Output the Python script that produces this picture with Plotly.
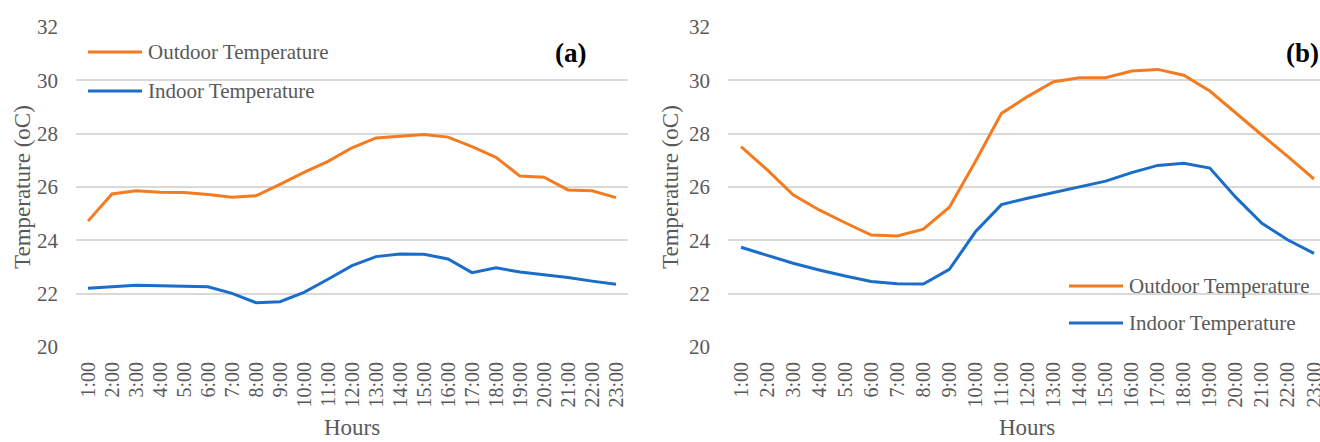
import plotly.graph_objects as go

W, H = 1320, 442

hours = [f"{h}:00" for h in range(1, 24)]

# Panel (a)
outdoor_a = [24.72, 25.74, 25.86, 25.80, 25.79, 25.72, 25.62, 25.67, 26.10, 26.55, 26.96,
             27.47, 27.84, 27.91, 27.97, 27.87, 27.51, 27.11, 26.41, 26.37, 25.89, 25.86, 25.60]
indoor_a = [22.20, 22.26, 22.32, 22.30, 22.27, 22.26, 22.01, 21.66, 21.70, 22.05, 22.54,
            23.05, 23.39, 23.49, 23.48, 23.30, 22.79, 22.97, 22.81, 22.71, 22.61, 22.47, 22.35]

# Panel (b)
outdoor_b = [27.51, 26.65, 25.71, 25.14, 24.66, 24.20, 24.16, 24.42, 25.24, 26.96, 28.76,
             29.39, 29.95, 30.10, 30.10, 30.35, 30.41, 30.19, 29.60, 28.76, 27.95, 27.14, 26.30]
indoor_b = [23.74, 23.44, 23.14, 22.89, 22.66, 22.46, 22.37, 22.36, 22.91, 24.32, 25.34,
            25.58, 25.79, 26.01, 26.22, 26.54, 26.81, 26.89, 26.71, 25.61, 24.64, 24.01, 23.51]

y_ticks = [20, 22, 24, 26, 28, 30, 32]

ORANGE = "#F47B20"
BLUE = "#1A6DC8"
GRID = "#D9D9D9"
TEXT = "#595959"
FONT = "Liberation Serif"

fig = go.Figure()

panels = [
    ("x", "y", outdoor_a, indoor_a),
    ("x2", "y2", outdoor_b, indoor_b),
]
for xa, ya, out, ind in panels:
    fig.add_trace(go.Scatter(x=hours, y=out, xaxis=xa, yaxis=ya, mode="lines",
                             line=dict(color=ORANGE, width=3), name="Outdoor Temperature",
                             showlegend=False))
    fig.add_trace(go.Scatter(x=hours, y=ind, xaxis=xa, yaxis=ya, mode="lines",
                             line=dict(color=BLUE, width=3), name="Indoor Temperature",
                             showlegend=False))

ydom = [(H - 347) / H, (H - 27) / H]

xcommon = dict(type="category", tickmode="array", tickvals=hours, ticktext=hours,
               tickangle=-90, showgrid=False, zeroline=False, automargin=False,
               showline=False, ticks="", tickfont=dict(family=FONT, size=20, color=TEXT),
               ticklabelstandoff=10)
ycommon = dict(range=[20, 32], tickvals=y_ticks, showgrid=True, gridcolor=GRID,
               gridwidth=1.5, zeroline=False, showline=False, ticks="", automargin=False,
               tickfont=dict(family=FONT, size=21, color=TEXT), ticklabelstandoff=17)

fig.update_layout(
    width=W, height=H,
    margin=dict(l=0, r=0, t=0, b=0, autoexpand=False),
    paper_bgcolor="white", plot_bgcolor="white",
    xaxis=dict(domain=[76 / W, 628 / W], range=[-0.5, 22.5], anchor="y", **xcommon),
    yaxis=dict(domain=ydom, anchor="x", **ycommon),
    xaxis2=dict(domain=[728 / W, 1.0], range=[-0.5, 22.23], anchor="y2", **xcommon),
    yaxis2=dict(domain=ydom, anchor="x2", **ycommon),
)

def px(x):
    return x / W

def py(y):
    return 1 - y / H

annotations = []
shapes = []

# Axis titles
for cx, cy_title, hx in [(22, 187, 352), (670, 187, 1027)]:
    annotations.append(dict(x=px(cx), y=py(cy_title), xref="paper", yref="paper",
                            text="Temperature (oC)", textangle=-90, showarrow=False,
                            font=dict(family=FONT, size=23, color=TEXT),
                            xanchor="center", yanchor="middle"))
    annotations.append(dict(x=px(hx), y=0, xref="paper", yref="paper",
                            text="Hours", showarrow=False,
                            font=dict(family=FONT, size=23, color=TEXT),
                            xanchor="center", yanchor="bottom"))

# Panel labels
for lx, lab in [(570, "(a)"), (1302, "(b)")]:
    annotations.append(dict(x=px(lx), y=py(53), xref="paper", yref="paper",
                            text=f"<b>{lab}</b>", showarrow=False,
                            font=dict(family=FONT, size=27, color="black"),
                            xanchor="center", yanchor="middle"))

# Legends drawn as line samples with text
legend_items = [
    (88, 52, ORANGE, "Outdoor Temperature"),
    (88, 91, BLUE, "Indoor Temperature"),
    (1069, 286, ORANGE, "Outdoor Temperature"),
    (1069, 323, BLUE, "Indoor Temperature"),
]
for lx, ly, col, txt in legend_items:
    shapes.append(dict(type="line", xref="paper", yref="paper",
                       x0=px(lx), x1=px(lx + 54), y0=py(ly), y1=py(ly),
                       line=dict(color=col, width=3)))
    annotations.append(dict(x=px(lx + 58), y=py(ly), xref="paper", yref="paper",
                            text=txt, showarrow=False, xanchor="left", yanchor="middle",
                            font=dict(family=FONT, size=21, color=TEXT)))

fig.update_layout(annotations=annotations, shapes=shapes)

fig.write_html("out.html")
